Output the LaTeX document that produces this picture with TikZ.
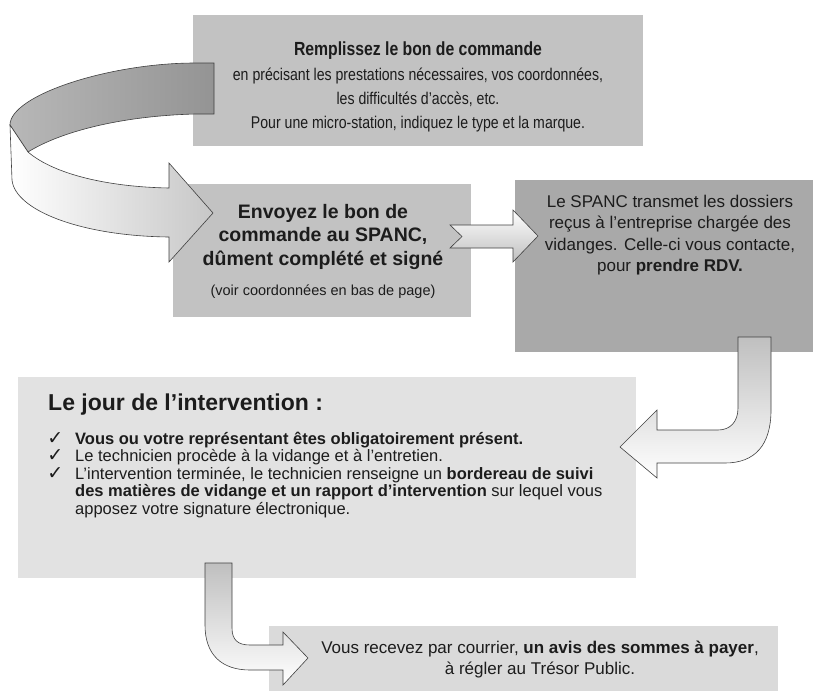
\documentclass[tikz,border=0pt]{standalone}
\usepackage{fontspec}
\setmainfont{Liberation Sans}
\newfontfamily\narrowsans{Liberation Sans}[FakeStretch=0.83]
\newfontfamily\symbolsans{DejaVu Sans}
\definecolor{paneldark}{HTML}{A9A9A9}
\definecolor{panelmid}{HTML}{C2C2C2}
\definecolor{panellight}{HTML}{E2E2E2}
\definecolor{panelpale}{HTML}{DADADA}
\definecolor{inktext}{HTML}{1C1C1C}
\tikzset{
  panel/.style={anchor=north west, inner sep=0pt, outer sep=0pt},
  txt/.style={inner sep=0pt, align=center, text=inktext},
  blockarrow/.style={draw=black!75, line width=0.6pt, line join=miter},
}
\newcommand{\tick}{\llap{{\symbolsans\bfseries\fontsize{19}{16}\selectfont ✓}\hspace{12pt}}}
\begin{document}
\begin{tikzpicture}[x=1pt,y=-1pt]
    \useasboundingbox (0,0) rectangle (813,691);

    % the five steps
    \node[panel, fill=panelmid, minimum width=450pt, minimum height=131pt] (order) at (193,15) {};
    \node[panel, fill=panelmid, minimum width=298pt, minimum height=133pt] (send) at (173,184) {};
    \node[panel, fill=paneldark, minimum width=298pt, minimum height=172pt] (spanc) at (515,180) {};
    \node[panel, fill=panellight, minimum width=618pt, minimum height=201pt] (visit) at (18,377) {};
    \node[panel, fill=panelpale, minimum width=509pt, minimum height=65pt] (bill) at (269,626) {};

    % texts (base = baseline of the last line)
    \node[txt, anchor=base, font=\narrowsans\bfseries\fontsize{19}{24}\selectfont] (ordertitle) at (418,55) {Remplissez le bon de commande};
    \node[txt, anchor=base, font=\narrowsans\fontsize{17}{24}\selectfont] (orderbody) at (418,128)
        {en précisant les prestations nécessaires, vos coordonnées,\\les difficultés d’accès, etc.\\Pour une micro-station, indiquez le type et la marque.};
    \node[txt, anchor=base, font=\bfseries\fontsize{19.5}{23.5}\selectfont] (sendtitle) at (323,265)
        {Envoyez le bon de\\commande au SPANC,\\dûment complété et signé};
    \node[txt, anchor=base, font=\fontsize{14.5}{16}\selectfont] (sendnote) at (323,295) {(voir coordonnées en bas de page)};
    \node[txt, anchor=base, font=\fontsize{17}{21.5}\selectfont] (spanctext) at (670,271.5)
        {Le SPANC transmet les dossiers\\reçus à l’entreprise chargée des\\vidanges. Celle-ci vous contacte,\\pour \textbf{prendre RDV.}};
    \node[txt, anchor=base west, font=\bfseries\fontsize{23}{26}\selectfont] (visittitle) at (48,410) {Le jour de l’intervention :};
    \node[txt, anchor=base west, align=left, font={\fontsize{16.5}{17.5}\selectfont\lineskiplimit=-8pt\relax}] (visitlist) at (75,514)
        {\tick\textbf{Vous ou votre représentant êtes obligatoirement présent.}\\
         \tick Le technicien procède à la vidange et à l’entretien.\\
         \tick L’intervention terminée, le technicien renseigne un \textbf{bordereau de suivi}\\
         \textbf{des matières de vidange et un rapport d’intervention} sur lequel vous\\
         apposez votre signature électronique.};
    \node[txt, anchor=base, font=\fontsize{17}{21}\selectfont] (billtext) at (540,674)
        {Vous recevez par courrier, \textbf{un avis des sommes à payer},\\à régler au Trésor Public.};

    % curled arrow from the order form to the sending step
    \draw[blockarrow, left color=black!28, right color=black!42]
        (214,63) -- (195,63) .. controls (110,63) and (10,95) .. (10,125)
        -- (28,152) .. controls (60,132) and (120,116) .. (195,114) -- (214,114) -- cycle;
    \draw[blockarrow, left color=white, right color=black!22]
        (10,125) -- (12,180) .. controls (15,210) and (80,236) .. (169,237)
        -- (169,262) -- (213,213) -- (169,163) -- (169,188)
        .. controls (110,187) and (55,175) .. (28,152) -- cycle;

    % straight arrow to the SPANC
    \draw[blockarrow, top color=white, bottom color=black!25]
        (450,225) -- (513,225) -- (513,210) -- (538,236) -- (513,262) -- (513,248) -- (450,248) -- (462,236.5) -- cycle;

    % bent arrow down to the visit
    \draw[blockarrow, top color=black!25, bottom color=white]
        (738,337) -- (771,337) -- (771,410) .. controls (771,445) and (755,463) .. (725,463)
        -- (657,463) -- (657,478) -- (620,447) -- (657,410) -- (657,430) -- (718,430)
        .. controls (730,430) and (738,422) .. (738,408) -- cycle;

    % bent arrow down to the bill
    \draw[blockarrow, top color=black!25, bottom color=white]
        (205,563) -- (232,563) -- (232,628) .. controls (232,640) and (238,645) .. (250,645)
        -- (283,645) -- (283,632) -- (308,658) -- (283,685) -- (283,670) -- (250,670)
        .. controls (222,670) and (205,655) .. (205,625) -- cycle;
\end{tikzpicture}
\end{document}
